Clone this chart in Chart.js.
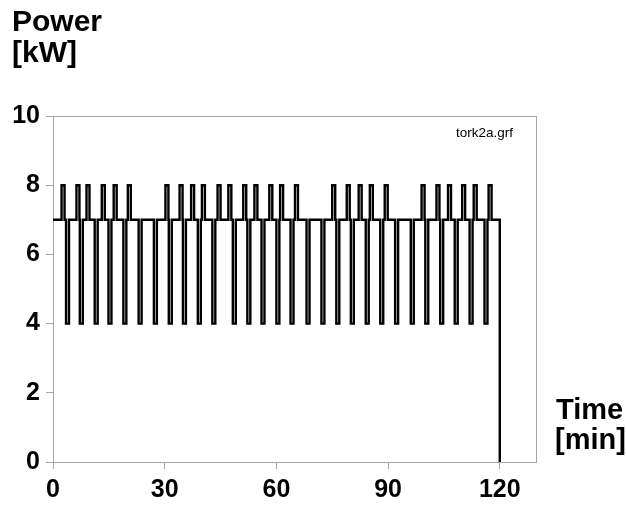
<!DOCTYPE html>
<html>
<head>
<meta charset="utf-8">
<script src="https://cdn.jsdelivr.net/npm/chart.js@4/dist/chart.umd.min.js"></script>
<style>
body { margin: 0; background: #fff; }
#wrap { width: 626px; height: 507px; }
</style>
</head>
<body>
<div id="wrap"><canvas id="powerChart" width="626" height="507"></canvas></div>
<script>
// step profile: time of each change [min] and the power from that time on [kW]
const time = [
  0,
  2.3, 3.1, 3.5, 4.3, 6.3, 7.1, 7.2, 8.0, 9.0, 9.8,
  11.2, 12.0, 13.1, 13.9, 14.9, 15.7, 16.3, 17.1, 18.9, 19.7,
  20.1, 20.9, 23.0, 23.8, 27.1, 27.9,
  30.2, 31.0, 31.1, 31.9, 34.0, 34.8, 34.9, 35.7, 37.1, 37.9, 38.9, 39.7,
  40.0, 40.8, 42.8, 43.6, 44.2, 45.0, 47.1, 47.9, 48.3, 49.1,
  51.1, 51.9, 52.2, 53.0, 54.1, 54.9, 56.0, 56.8, 58.1, 58.9,
  60.0, 60.8, 61.0, 61.8, 63.8, 64.6, 65.0, 65.8, 68.1, 68.9,
  72.1, 72.9, 75.0, 75.8, 76.1, 76.9, 78.9, 79.7,
  80.0, 80.8, 82.1, 82.9, 84.0, 84.8, 85.1, 85.9, 87.9, 88.7, 89.1, 89.9,
  91.9, 92.7, 96.1, 96.9, 99.0, 99.8,
  100.0, 100.8, 103.0, 103.8, 104.0, 104.8, 106.1, 106.9, 107.9, 108.7, 109.9, 110.7,
  111.9, 112.7, 113.0, 113.8, 115.9, 116.7, 117.0, 117.8,
  120
];
const power = [
  7,
  8, 7, 4, 7, 8, 7, 4, 7, 8, 7,
  4, 7, 8, 7, 4, 7, 8, 7, 4, 7,
  8, 7, 4, 7, 4, 7,
  8, 7, 4, 7, 8, 7, 4, 7, 8, 7, 4, 7,
  8, 7, 4, 7, 8, 7, 8, 7, 4, 7,
  8, 7, 4, 7, 8, 7, 4, 7, 8, 7,
  4, 7, 8, 7, 4, 7, 8, 7, 4, 7,
  4, 7, 8, 7, 4, 7, 8, 7,
  4, 7, 8, 7, 4, 7, 8, 7, 4, 7, 8, 7,
  4, 7, 4, 7, 8, 7,
  4, 7, 8, 7, 4, 7, 8, 7, 4, 7, 8, 7,
  4, 7, 8, 7, 4, 7, 8, 7,
  0
];
const xTicks = [0, 30, 60, 90, 120];
const yTicks = [0, 2, 4, 6, 8, 10];

const gray = '#a6a6a6';

const frame = {
  id: 'frame',
  beforeDatasetsDraw(chart) {
    const a = chart.chartArea;
    const c = chart.ctx;
    c.save();
    c.strokeStyle = gray;
    c.lineWidth = 1;
    c.strokeRect(Math.round(a.left) + 0.5, Math.round(a.top) + 0.5,
      Math.round(a.right - a.left) - 1, Math.round(a.bottom - a.top));
    c.restore();
  }
};

const texts = {
  id: 'texts',
  afterDraw(chart) {
    const c = chart.ctx;
    c.save();
    c.fillStyle = '#000';
    c.textBaseline = 'alphabetic';
    c.font = 'bold 30px "Liberation Sans", Arial, sans-serif';
    c.fillText('Power', 12, 31);
    c.fillText('[kW]', 12, 62);
    c.font = 'bold 29px "Liberation Sans", Arial, sans-serif';
    c.fillText('Time', 556, 419);
    c.fillText('[min]', 555, 449);
    c.font = '13.5px "Liberation Sans", Arial, sans-serif';
    c.fillText('tork2a.grf', 456, 137);
    c.restore();
  }
};

new Chart(document.getElementById('powerChart'), {
  type: 'line',
  data: {
    datasets: [{
      label: 'Power',
      data: time.map((t, i) => ({ x: t, y: power[i] })),
      stepped: true,
      borderColor: '#000',
      borderWidth: 2.4,
      pointRadius: 0,
      fill: false
    }]
  },
  options: {
    responsive: false,
    animation: false,
    layout: { padding: { top: 116, right: 89, left: 0, bottom: 0 } },
    plugins: { legend: { display: false }, tooltip: { enabled: false } },
    scales: {
      x: {
        type: 'linear',
        min: 0,
        max: 130,
        afterBuildTicks: s => { s.ticks = xTicks.map(v => ({ value: v })); },
        afterFit: s => { s.height = 45; },
        border: { display: false },
        grid: { drawOnChartArea: false, tickLength: 7, color: gray },
        ticks: {
          padding: 6,
          color: '#000',
          font: { family: '"Liberation Sans", Arial, sans-serif', size: 25, weight: 'bold' }
        }
      },
      y: {
        min: 0,
        max: 10,
        afterBuildTicks: s => { s.ticks = yTicks.map(v => ({ value: v })); },
        afterFit: s => { s.width = 53; },
        border: { display: false },
        grid: { drawOnChartArea: false, tickLength: 7, color: gray },
        ticks: {
          padding: 6,
          color: '#000',
          font: { family: '"Liberation Sans", Arial, sans-serif', size: 25, weight: 'bold' }
        }
      }
    }
  },
  plugins: [frame, texts]
});
</script>
</body>
</html>
